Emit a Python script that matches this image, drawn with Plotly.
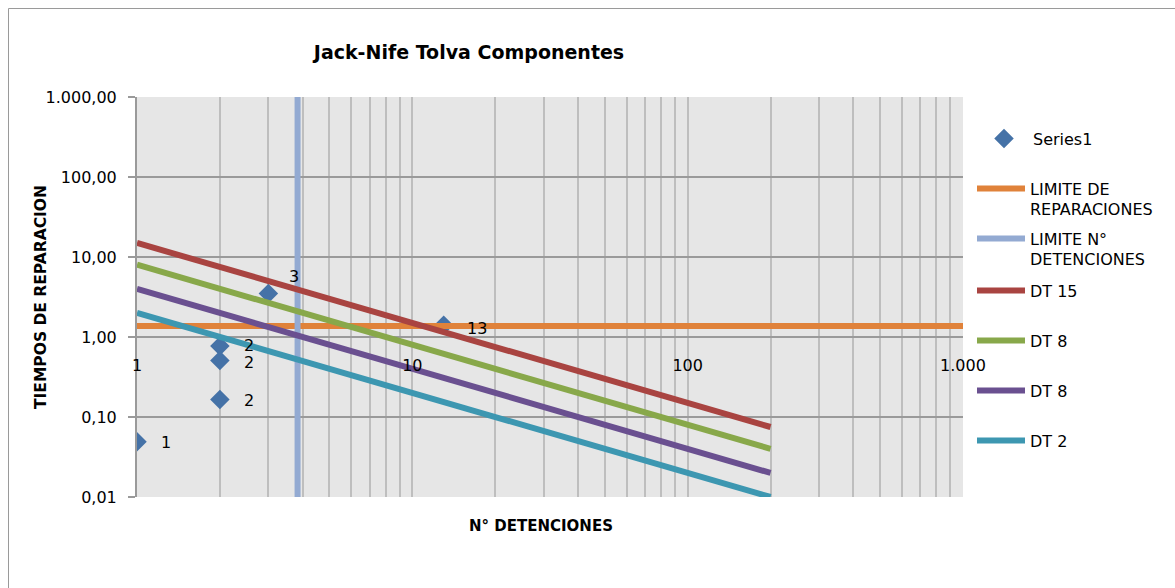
import math
import plotly.graph_objects as go

# Observed stoppages: number of stoppages vs. repair time
det = [1, 2, 2, 2, 3, 13]
rep = [0.049, 0.77, 0.51, 0.165, 3.5, 1.4]
point_labels = ["1", "2", "2", "2", "3", "13"]

# Reference limits
lim_rep = 1.37          # repair time limit (horizontal)
lim_det = 3.83          # stoppage count limit (vertical)
lim_rep_x = [1, 1000]
lim_det_y = [0.01, 1000]

# Constant-downtime curves (DT = N x T)
dt_x = [1, 200]
dt15 = [15, 0.075]
dt8a = [8, 0.04]
dt8b = [4, 0.02]
dt2 = [2, 0.01]

x_ticks = [1, 10, 100, 1000]
x_tick_text = ["1", "10", "100", "1.000"]
y_ticks = [0.01, 0.1, 1, 10, 100, 1000]
y_tick_text = ["0,01", "0,10", "1,00", "10,00", "100,00", "1.000,00"]
x_minor = [m * d for d in (1, 10, 100) for m in range(2, 10)]

FONT = "DejaVu Sans"
W, H = 1175, 588
L, R, T, B = 137, 212, 97, 91
PW, PH = W - L - R, H - T - B


def px_x(px):
    return (px - L) / PW


def px_y(py):
    return (H - B - py) / PH


fig = go.Figure()

line_traces = [
    ("LIMITE DE<br>REPARACIONES", lim_rep_x, [lim_rep, lim_rep], "#E0823A", 188),
    ("LIMITE N°<br>DETENCIONES", [lim_det, lim_det], lim_det_y, "#93AAD2", 238),
    ("DT 15", dt_x, dt15, "#A94441", 290),
    ("DT 8", dt_x, dt8a, "#88A84A", 340),
    ("DT 8", dt_x, dt8b, "#6A5090", 390),
    ("DT 2", dt_x, dt2, "#3D97B1", 440),
]

fig.add_trace(go.Scatter(
    x=det, y=rep, mode="markers", name="Series1",
    marker=dict(symbol="diamond", size=15, color="#4572A7"),
    legend="legend",
))

for i, (name, xs, ys, color, _) in enumerate(line_traces):
    fig.add_trace(go.Scatter(
        x=xs, y=ys, mode="lines", name=name,
        line=dict(color=color, width=6),
        legend=f"legend{i + 2}",
    ))

# data labels (annotation positions on log axes are given in log10 units)
annotations = []
label_shift = {1: (22, 1), 2: (22, -2), 4: (19, 17), 5: (21, -3)}
for i, (xv, yv, txt) in enumerate(zip(det, rep, point_labels)):
    dx, dy = label_shift.get(i, (22, -1))
    annotations.append(dict(
        x=math.log10(xv), y=math.log10(yv), xref="x", yref="y",
        text=txt, showarrow=False,
        xanchor="left", yanchor="middle", xshift=dx, yshift=dy,
        font=dict(family=FONT, size=16, color="#000"),
    ))

annotations += [
    dict(x=px_x(541), y=px_y(537), xref="paper", yref="paper",
         text="<b>N° DETENCIONES</b>", showarrow=False,
         font=dict(family=FONT, size=15, color="#000")),
    dict(x=px_x(30), y=px_y(297), xref="paper", yref="paper",
         text="<b>TIEMPOS DE REPARACION</b>", showarrow=False, textangle=-90,
         font=dict(family=FONT, size=15.5, color="#000")),
]

legend_base = dict(
    bgcolor="rgba(0,0,0,0)", borderwidth=0, xanchor="left", yanchor="top",
    font=dict(family=FONT, size=16, color="#000"), valign="top",
    itemwidth=48,
)
legends = {"legend": dict(legend_base, x=px_x(975), y=px_y(138 - 16.5))}
for i, (_, _, _, _, yc) in enumerate(line_traces):
    legends[f"legend{i + 2}"] = dict(legend_base, x=px_x(972), y=px_y(yc - 16.5))

fig.update_layout(
    width=W, height=H,
    margin=dict(l=L, r=R, t=T, b=B),
    paper_bgcolor="white",
    plot_bgcolor="#E6E6E6",
    showlegend=True,
    title=dict(text="<b>Jack-Nife Tolva Componentes</b>",
               x=469 / W, y=1 - 52 / H, xanchor="center", yanchor="middle",
               font=dict(family=FONT, size=19, color="#000")),
    xaxis=dict(
        type="log", range=[0, 3],
        tickvals=x_ticks, ticktext=x_tick_text,
        showgrid=True, gridcolor="#BEBEBE", gridwidth=2,
        minor=dict(tickvals=x_minor, showgrid=True, gridcolor="#BEBEBE", gridwidth=2),
        anchor="free", position=0.4,
        showline=False, zeroline=False, ticks="",
        ticklabelstandoff=17,
        tickfont=dict(family=FONT, size=16, color="#000"),
    ),
    yaxis=dict(
        type="log", range=[-2, 3],
        tickvals=y_ticks, ticktext=y_tick_text,
        showgrid=True, gridcolor="#9A9A9A", gridwidth=2,
        showline=True, linecolor="#9A9A9A", linewidth=2,
        ticks="outside", ticklen=7, tickcolor="#9A9A9A", tickwidth=2,
        ticklabelstandoff=8, zeroline=False,
        tickfont=dict(family=FONT, size=16, color="#000"),
    ),
    annotations=annotations,
    shapes=[dict(type="rect", xref="paper", yref="paper",
                 x0=px_x(8.5), x1=px_x(1190), y0=px_y(600), y1=px_y(8.5),
                 line=dict(color="#9A9A9A", width=1), layer="below")],
    **legends,
)

fig.write_html("out.html")
